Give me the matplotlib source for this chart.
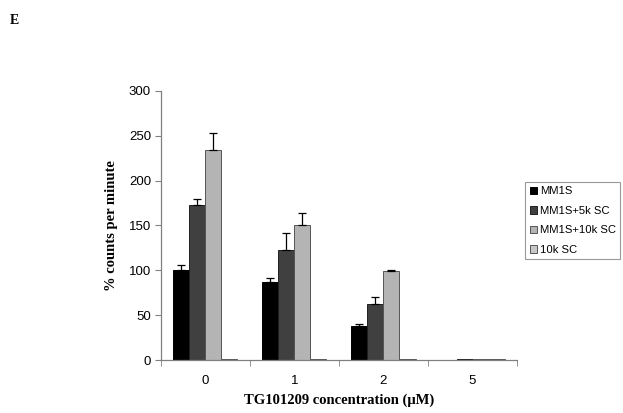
import numpy as np
import matplotlib.pyplot as plt
from matplotlib.patches import Patch

categories = ["0", "1", "2", "5"]
series = ["MM1S", "MM1S+5k SC", "MM1S+10k SC", "10k SC"]
mm1s = [100, 87, 38, 0.5]
mm1s_5k = [173, 123, 62, 1]
mm1s_10k = [234, 150, 99, 1]
sc_10k = [1, 1.5, 1, 1]
mm1s_err = [6, 4, 2, 0]
mm1s_5k_err = [7, 19, 8, 0]
mm1s_10k_err = [19, 14, 1, 0]
sc_10k_err = [0, 0, 0, 0]

colors = ["#000000", "#404040", "#b4b4b4", "#c8c8c8"]
edges = ["#000000", "#202020", "#555555", "#555555"]

fig = plt.figure(figsize=(6.23, 4.13), dpi=100)
ax = fig.add_axes([0.258, 0.128, 0.572, 0.652])

x = np.arange(len(categories))
w = 0.18
vals = [mm1s, mm1s_5k, mm1s_10k, sc_10k]
errs = [mm1s_err, mm1s_5k_err, mm1s_10k_err, sc_10k_err]
for i in range(4):
    pos = x + (i - 1.5) * w
    ax.bar(pos, vals[i], w, color=colors[i], edgecolor=edges[i], linewidth=0.7)
    e = np.array(errs[i])
    mask = e > 0
    ax.errorbar(pos[mask], np.array(vals[i])[mask], yerr=[np.zeros(mask.sum()), e[mask]],
                fmt="none", ecolor="black", elinewidth=0.9, capsize=3, capthick=0.9)

ax.set_xlim(-0.5, 3.5)
ax.set_ylim(0, 300)
ax.set_yticks(range(0, 301, 50))
ax.set_xticks(x)
ax.set_xticklabels(categories)
ax.set_xticks(np.arange(-0.5, 3.6, 1), minor=True)
ax.tick_params(axis="x", which="major", length=0, pad=11)
ax.tick_params(axis="x", which="minor", length=4, direction="out", color="#808080")
ax.tick_params(axis="y", length=4, direction="out", color="#808080", pad=3)
for lab in ax.get_xticklabels() + ax.get_yticklabels():
    lab.set_fontfamily("Liberation Sans")
    lab.set_fontsize(9.5)
for s in ["top", "right"]:
    ax.spines[s].set_visible(False)
for s in ["left", "bottom"]:
    ax.spines[s].set_color("#808080")
    ax.spines[s].set_linewidth(0.9)

ax.set_ylabel("% counts per minute", family="Liberation Serif", fontweight="bold",
              fontsize=10.5, labelpad=8)
ax.set_xlabel("TG101209 concentration (\u03bcM)", family="Liberation Serif",
              fontweight="bold", fontsize=10.5)
ax.xaxis.set_label_coords(0.5, -0.125)

handles = [Patch(facecolor=colors[i], edgecolor=edges[i], linewidth=0.7) for i in range(4)]
leg = fig.legend(handles, series, loc="upper left", bbox_to_anchor=(0.843, 0.56),
                 prop={"family": "Liberation Sans", "size": 8.1}, frameon=True,
                 fancybox=False, handlelength=0.65, handleheight=0.65,
                 handletextpad=0.25, borderpad=0.4, labelspacing=0.85, borderaxespad=0)
leg.get_frame().set_edgecolor("#808080")
leg.get_frame().set_linewidth(0.8)

fig.text(0.016, 0.965, "E", family="Liberation Serif", fontweight="bold",
         fontsize=10, va="top")

fig.savefig("out.png", dpi=100)
